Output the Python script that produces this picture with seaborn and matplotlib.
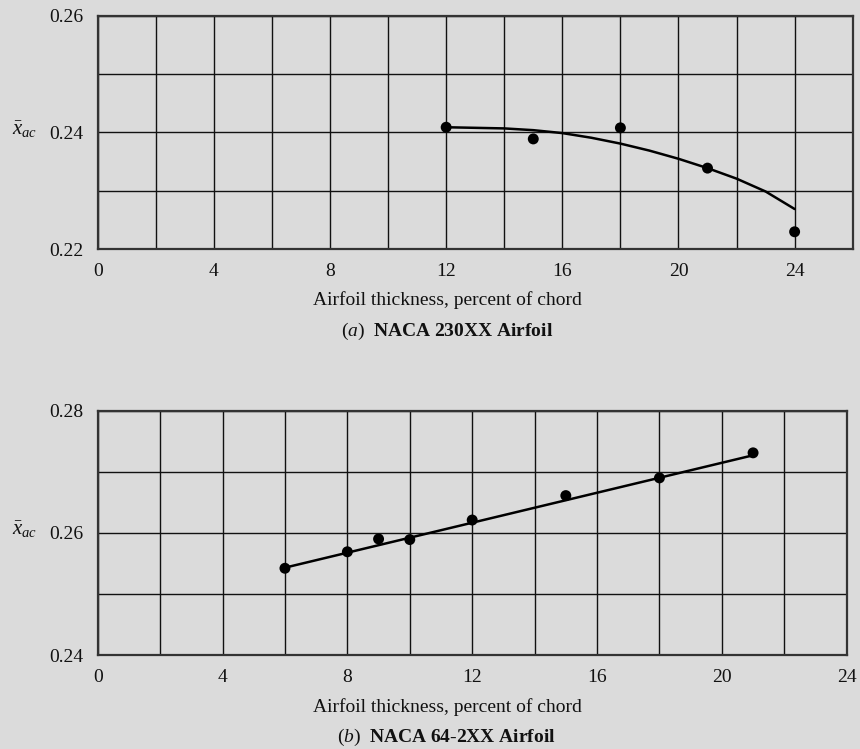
import matplotlib
matplotlib.use("Agg")
import matplotlib.pyplot as plt
import seaborn as sns
import pandas as pd
from matplotlib.ticker import MultipleLocator

# ---- data (a) NACA 230XX ----
a_pts_x = [12, 15, 18, 21, 24]
a_pts_y = [0.2409, 0.2389, 0.2408, 0.2339, 0.2230]
a_curve_x = [12, 13, 14, 15, 16, 17, 18, 19, 20, 21, 22, 23, 24]
a_curve_y = [0.2409, 0.2408, 0.2407, 0.2404, 0.2399, 0.2391, 0.2381,
             0.2369, 0.2355, 0.2339, 0.2321, 0.2299, 0.2269]

# ---- data (b) NACA 64-2XX ----
b_pts_x = [6, 8, 9, 10, 12, 15, 18, 21]
b_pts_y = [0.2542, 0.2569, 0.2590, 0.2589, 0.2621, 0.2661, 0.2690, 0.2731]
b_line_x = [6, 21]
b_line_y = [0.2543, 0.2727]

x_label = "Airfoil thickness, percent of chord"
y_label = r"$\bar{x}_{ac}$"
cap_a = r"$(\mathit{a})\ \ \mathbf{NACA\ 230XX\ Airfoil}$"
cap_b = r"$(\mathit{b})\ \ \mathbf{NACA\ 64\text{-}2XX\ Airfoil}$"

BG = "#dbdbdb"
sns.set_theme(style="white", rc={"axes.facecolor": BG, "figure.facecolor": BG})
plt.rcParams["font.family"] = ["Liberation Serif", "DejaVu Serif"]
plt.rcParams["mathtext.fontset"] = "custom"
plt.rcParams["mathtext.rm"] = "Liberation Serif"
plt.rcParams["mathtext.it"] = "Liberation Serif:italic"
plt.rcParams["mathtext.bf"] = "Liberation Serif:bold"

fig = plt.figure(figsize=(8.6, 7.49), dpi=100)
ax1 = fig.add_axes([97.7/860, 1-249.3/749, (852.7-97.7)/860, (249.3-15.7)/749])
ax2 = fig.add_axes([97.7/860, 1-655/749, (846.7-97.7)/860, (655-410.7)/749])

dfa_p = pd.DataFrame({"x": a_pts_x, "y": a_pts_y})
dfa_c = pd.DataFrame({"x": a_curve_x, "y": a_curve_y})
dfb_p = pd.DataFrame({"x": b_pts_x, "y": b_pts_y})
dfb_l = pd.DataFrame({"x": b_line_x, "y": b_line_y})

sns.lineplot(data=dfa_c, x="x", y="y", ax=ax1, color="black", linewidth=1.8, zorder=3)
sns.scatterplot(data=dfa_p, x="x", y="y", ax=ax1, color="black", s=62, edgecolor="none", zorder=4)
sns.lineplot(data=dfb_l, x="x", y="y", ax=ax2, color="black", linewidth=1.8, zorder=3)
sns.scatterplot(data=dfb_p, x="x", y="y", ax=ax2, color="black", s=62, edgecolor="none", zorder=4)

def style(ax, xmax, ylo, yhi, xw):
    ax.set_xlim(0, xmax)
    ax.set_ylim(ylo, yhi)
    ax.xaxis.set_major_locator(MultipleLocator(4))
    ax.xaxis.set_minor_locator(MultipleLocator(2))
    ax.yaxis.set_major_locator(MultipleLocator(0.02))
    ax.yaxis.set_minor_locator(MultipleLocator(0.01))
    ax.set_xticks(list(range(0, 25, 4)))
    ax.grid(True, which="both", color="#111111", linewidth=1.0)
    ax.set_axisbelow(True)
    ax.tick_params(which="both", length=0, labelsize=14, colors="#111111")
    ax.tick_params(axis="x", pad=10)
    ax.tick_params(axis="y", pad=10)
    ax.set_yticklabels([f"{v:.2f}" for v in ax.get_yticks()])
    for s in ax.spines.values():
        s.set_visible(True)
        s.set_color("#333333")
        s.set_linewidth(1.6)
    ax.set_xlabel(x_label, fontsize=14, color="#111111")
    ax.set_ylabel(y_label, fontsize=15, rotation=0, color="#111111")
    ax.yaxis.set_label_coords((24.5-97.7)/xw, 0.47)

style(ax1, 26, 0.22, 0.26, 755)
style(ax2, 24, 0.24, 0.28, 749)
ax1.xaxis.set_label_coords((447-97.7)/755, (249.3-300)/233.6)
ax2.xaxis.set_label_coords((447-97.7)/749, (655-706.7)/244.3)
ax1.xaxis.label.set_va("center")
ax2.xaxis.label.set_va("center")

fig.text(446.7/860, 1-331.7/749, cap_a, ha="center", va="center", fontsize=14, color="#111111")
fig.text(446.5/860, 1-737.7/749, cap_b, ha="center", va="center", fontsize=14, color="#111111")

fig.savefig("out.png", dpi=100, facecolor=BG)
